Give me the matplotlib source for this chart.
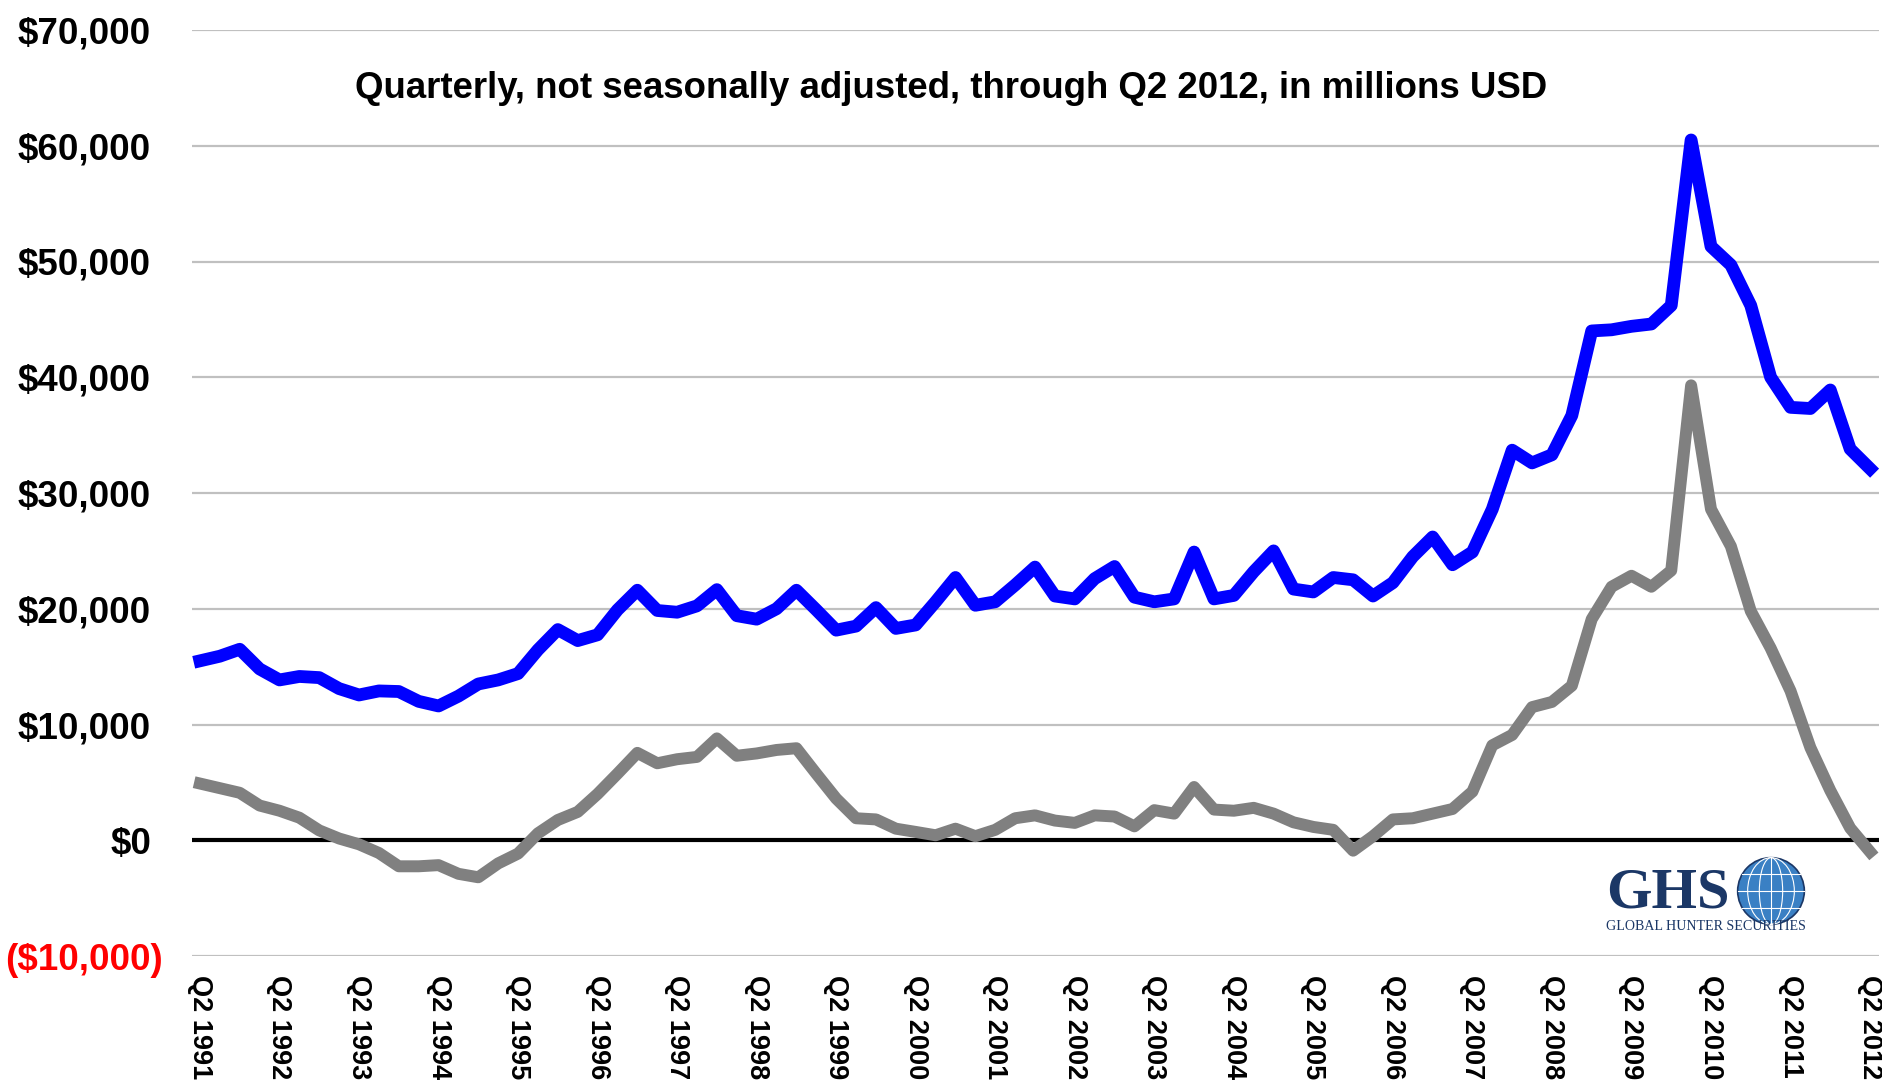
import matplotlib
matplotlib.use("Agg")
import matplotlib.pyplot as plt
import matplotlib.transforms as mtransforms
from matplotlib.patches import Circle, Ellipse

# quarterly values, Q2 1991 .. Q2 2012, in millions USD
blue_vals = [
    15500, 15900, 16500, 14800, 13850, 14150, 14050, 13100, 12550, 12900,
    12850, 12000, 11600, 12450, 13500, 13850, 14400, 16450, 18200, 17250,
    17750, 19900, 21600, 19850, 19700, 20250, 21650, 19400, 19100, 20000,
    21600, 19900, 18150, 18500, 20100, 18300, 18600, 20600, 22700, 20300,
    20600, 22050, 23600, 21100, 20850, 22600, 23650, 21000, 20600, 20850,
    24900, 20850, 21150, 23200, 25000, 21700, 21450, 22700, 22500, 21100,
    22250, 24500, 26200, 23800, 24900, 28600, 33700, 32600, 33300, 36700,
    44000, 44100, 44400, 44600, 46200, 60500, 51300, 49700, 46200, 40000,
    37400, 37300, 38900, 33800, 32100,
]
gray_vals = [
    4900, 4500, 4100, 3000, 2550, 1950, 850, 150, -350, -1100,
    -2250, -2250, -2150, -2900, -3200, -2000, -1150, 600, 1750, 2450,
    4000, 5750, 7550, 6650, 7000, 7200, 8800, 7300, 7500, 7800,
    7950, 5750, 3600, 1900, 1800, 1000, 720, 430, 1000, 350,
    900, 1900, 2150, 1700, 1500, 2150, 2050, 1200, 2600, 2300,
    4600, 2650, 2550, 2800, 2300, 1550, 1150, 900, -900, 350,
    1800, 1900, 2300, 2700, 4200, 8200, 9100, 11500, 11950, 13350,
    19100, 21900, 22850, 21900, 23300, 39300, 28600, 25400, 19800, 16600,
    12900, 8000, 4300, 1050, -1000,
]
tick_years = list(range(1991, 2013))
tick_labels = ["Q2 %d" % y for y in tick_years]
y_ticks = [-10000, 0, 10000, 20000, 30000, 40000, 50000, 60000, 70000]
y_labels = ["($10,000)", "$0", "$10,000", "$20,000", "$30,000",
            "$40,000", "$50,000", "$60,000", "$70,000"]
title = "Quarterly, not seasonally adjusted, through Q2 2012, in millions USD"

plt.rcParams["font.family"] = ["Liberation Sans", "DejaVu Sans"]

W, H = 1883, 1080
fig = plt.figure(figsize=(W / 100, H / 100), dpi=100)
ax = fig.add_axes([192 / W, 1 - 956 / H, (1879 - 192) / W, (956 - 30) / H])

x = list(range(len(blue_vals)))
ax.axhline(0, color="black", lw=3, zorder=2)
ax.plot(x, gray_vals, color="#808080", lw=8.6, solid_joinstyle="round",
        solid_capstyle="projecting", zorder=3)
ax.plot(x, blue_vals, color="#0000ff", lw=9.2, solid_joinstyle="round",
        solid_capstyle="projecting", zorder=4)

ax.set_xlim(-0.4, 84.45)
ax.set_ylim(-10000, 70000)
ax.set_yticks(y_ticks)
ax.set_yticklabels(y_labels, fontweight="bold")
ax.set_xticks(range(0, len(blue_vals), 4))
ax.set_xticklabels(tick_labels, rotation=-90, ha="center", va="top",
                   fontweight="bold")
ax.yaxis.grid(True, color="#c0c0c0", lw=1.6, zorder=0)
ax.set_axisbelow(True)
for s in ax.spines.values():
    s.set_visible(False)
ax.tick_params(length=0)
ax.tick_params(axis="y", pad=29.5, labelsize=26.5)
ax.tick_params(axis="x", pad=14, labelsize=19.5)

neg = ax.get_yticklabels()[0]
neg.set_color("red")
neg.set_transform(neg.get_transform() +
                  mtransforms.ScaledTranslation(12 / 100, 0, fig.dpi_scale_trans))

fig.text(951 / W, 1 - 88 / H, title, ha="center", va="center",
         fontsize=26.4, fontweight="bold")

# logo
navy = "#1b3766"
fig.text(1606 / W, 1 - 893 / H, "GHS", family="Liberation Serif",
         fontsize=42, fontweight="bold", color=navy, ha="left", va="center")
fig.text(1606 / W, 1 - 926 / H, "GLOBAL HUNTER SECURITIES",
         family="Liberation Serif", fontsize=10.1, color=navy, ha="left",
         va="center")
gax = fig.add_axes([1736 / W, 1 - 926 / H, 70 / W, 70 / H])
gax.set_xlim(-1.05, 1.05)
gax.set_ylim(-1.05, 1.05)
gax.set_aspect("equal")
gax.axis("off")
gax.add_patch(Circle((0, 0), 1, facecolor="#3a80c4", edgecolor=navy, lw=1.2))
for w in [0.7, 1.4]:
    gax.add_patch(Ellipse((0, 0), w, 2, fill=False, edgecolor="white", lw=0.8))
gax.plot([0, 0], [-1, 1], color="white", lw=0.8)
for yy in [-0.5, 0, 0.5]:
    half = (1 - yy ** 2) ** 0.5
    gax.plot([-half, half], [yy, yy], color="white", lw=0.8)

fig.savefig("out.png", dpi=100)
plt.close(fig)
